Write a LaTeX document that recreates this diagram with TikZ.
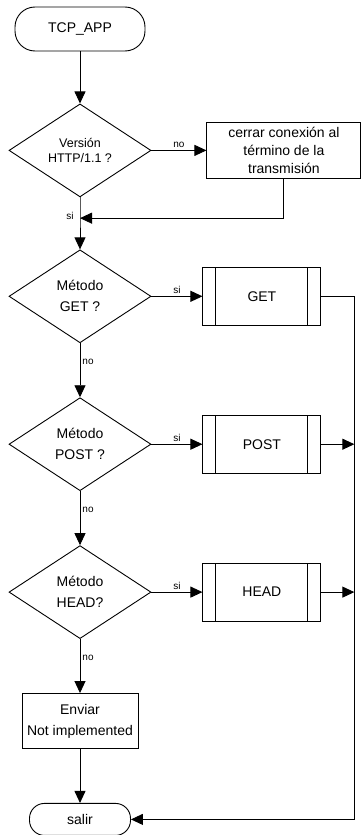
\documentclass[tikz,border=0pt]{standalone}
\usepackage{fontspec}
\setmainfont{Liberation Sans}
\usetikzlibrary{shapes, arrows.meta, positioning, calc}
\tikzset{
  terminal/.style = {rectangle, rounded corners=20pt, draw=black, line width=0.9pt, minimum width=130pt, minimum height=44pt, text centered, font=\fontsize{14}{18}\selectfont},
  decision/.style = {diamond, draw=black, line width=0.9pt, inner sep=0pt, shape aspect=1.53, minimum width=142pt, minimum height=93pt, align=center, font=\fontsize{14}{21}\selectfont},
  process/.style = {rectangle, draw=black, line width=0.9pt, align=center, font=\fontsize{14}{18}\selectfont},
  subproc/.style = {rectangle, draw=black, line width=0.9pt, minimum width=118pt, minimum height=58pt, text centered, font=\fontsize{14}{18}\selectfont,
    path picture={
      \draw[line width=0.9pt] ([xshift=13pt]path picture bounding box.north west) -- ([xshift=13pt]path picture bounding box.south west);
      \draw[line width=0.9pt] ([xshift=-13pt]path picture bounding box.north east) -- ([xshift=-13pt]path picture bounding box.south east);}},
  lbl/.style = {font=\fontsize{10}{12}\selectfont, inner sep=2pt},
  arr/.style = {-{Triangle[length=12pt, width=11pt]}, line width=0.9pt, black}
}
\begin{document}
\begin{tikzpicture}
  \useasboundingbox (0pt,0pt) rectangle (362pt,-835pt);

  % Start
  \node (start) [terminal] at (80pt,-29pt) {TCP\_APP};

  % Version check
  \node (version) [decision, below=52pt of start, font=\fontsize{12.5}{15}\selectfont] {Versión\\HTTP/1.1 ?};
  \node (closeconn) [process, right=55pt of version, minimum width=154pt, minimum height=56pt] {cerrar conexión al\\término de la\\transmisión};

  % Method checks
  \node (isget) [decision, below=52pt of version] {Método\\GET ?};
  \node (get) [subproc, right=51pt of isget] {GET};
  \node (ispost) [decision, below=54pt of isget] {Método\\POST ?};
  \node (post) [subproc, right=51pt of ispost] {POST};
  \node (ishead) [decision, below=54pt of ispost] {Método\\HEAD?};
  \node (head) [subproc, right=51pt of ishead] {HEAD};

  % Fallback and exit
  \node (notimpl) [process, below=54pt of ishead, minimum width=116pt, minimum height=55pt, font=\fontsize{14}{21}\selectfont] {Enviar\\Not implemented};
  \node (exit) [terminal, below=54pt of notimpl, minimum width=101pt, minimum height=32pt, rounded corners=15pt] {salir};

  \coordinate (join) at ($(version.south)!0.4!(isget.north)$);
  \coordinate (rail) at ([xshift=33pt]get.east);

  % Connecting Nodes
  \draw[arr] (start) -- (version);
  \draw[arr] (version) -- node[lbl, above] {no} (closeconn);
  \draw[arr] (closeconn.south) |- (join);
  \draw[arr] (version) -- (join) node[lbl, left=4pt, yshift=2pt] {si} -- (isget);
  \draw[arr] (isget) -- node[lbl, above] {si} (get);
  \draw[arr] (isget) -- node[lbl, right, pos=0.35] {no} (ispost);
  \draw[arr] (ispost) -- node[lbl, above] {si} (post);
  \draw[arr] (ispost) -- node[lbl, right, pos=0.35] {no} (ishead);
  \draw[arr] (ishead) -- node[lbl, above] {si} (head);
  \draw[arr] (ishead) -- node[lbl, right, pos=0.35] {no} (notimpl);
  \draw[arr] (notimpl) -- (exit);
  \draw[arr] (get) -- (rail) |- (exit);
  \draw[arr] (post) -- (post -| rail);
  \draw[arr] (head) -- (head -| rail);
\end{tikzpicture}
\end{document}
